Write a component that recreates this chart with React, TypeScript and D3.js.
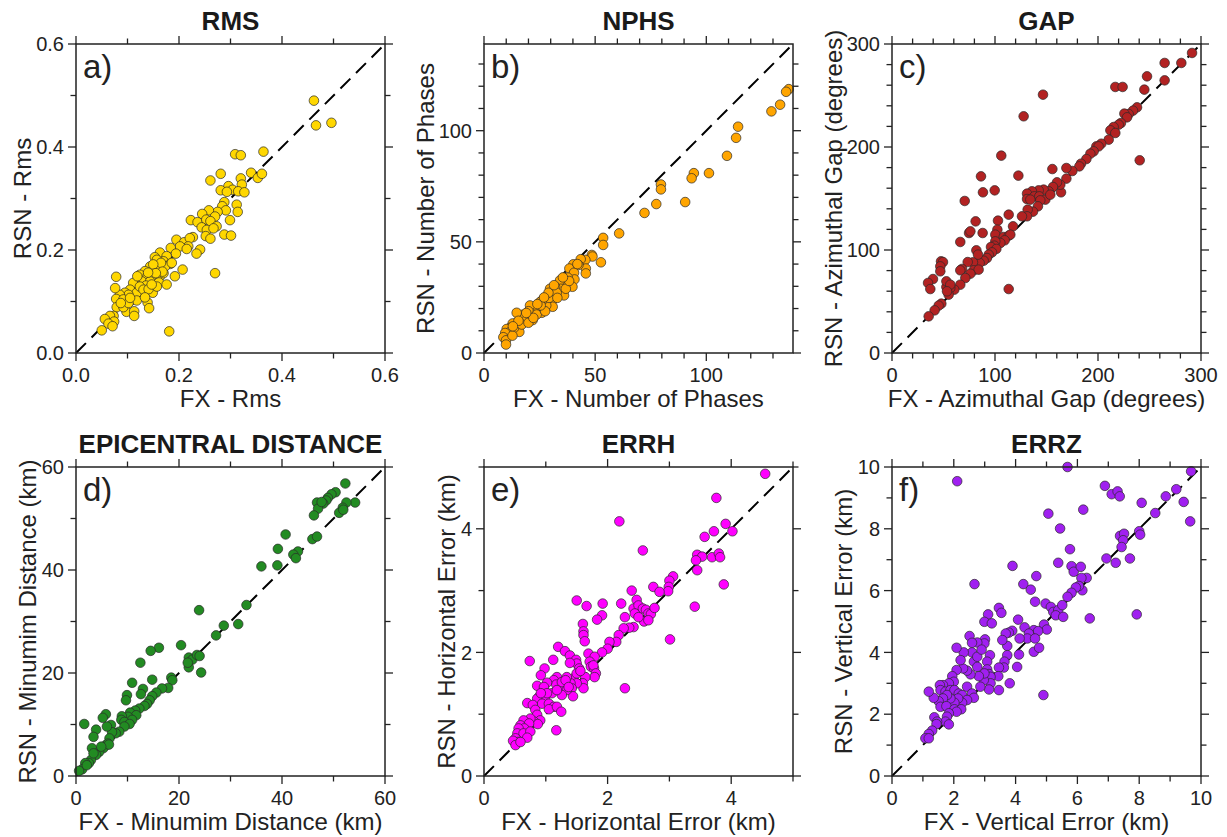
import React from 'react'
import * as d3 from 'd3'

// [FX, RSN] pairs
const rmsPoints: [number, number][] = [
  [0.462, 0.49], [0.466, 0.442], [0.496, 0.447], [0.364, 0.391], [0.309, 0.386], [0.32, 0.384],
  [0.34, 0.35], [0.353, 0.34], [0.361, 0.348], [0.281, 0.348], [0.261, 0.335], [0.32, 0.339],
  [0.322, 0.327], [0.296, 0.324], [0.304, 0.317], [0.281, 0.316], [0.315, 0.314], [0.327, 0.312],
  [0.293, 0.313], [0.288, 0.293], [0.312, 0.288], [0.284, 0.285], [0.314, 0.274], [0.291, 0.277],
  [0.275, 0.274], [0.258, 0.277], [0.245, 0.27], [0.27, 0.265], [0.299, 0.258], [0.223, 0.258],
  [0.236, 0.254], [0.253, 0.259], [0.261, 0.256], [0.273, 0.246], [0.244, 0.244], [0.254, 0.239],
  [0.267, 0.242], [0.227, 0.225], [0.252, 0.227], [0.261, 0.222], [0.288, 0.23], [0.301, 0.228],
  [0.195, 0.22], [0.21, 0.215], [0.221, 0.223], [0.218, 0.207], [0.202, 0.207], [0.184, 0.204],
  [0.241, 0.201], [0.234, 0.193], [0.194, 0.193], [0.215, 0.202], [0.27, 0.155], [0.207, 0.162],
  [0.192, 0.149], [0.181, 0.042], [0.163, 0.195], [0.153, 0.186], [0.176, 0.188], [0.17, 0.178],
  [0.183, 0.173], [0.157, 0.168], [0.144, 0.168], [0.163, 0.165], [0.134, 0.159], [0.147, 0.159],
  [0.124, 0.152], [0.139, 0.149], [0.152, 0.149], [0.163, 0.149], [0.128, 0.139], [0.144, 0.139],
  [0.161, 0.137], [0.176, 0.133], [0.118, 0.131], [0.136, 0.131], [0.111, 0.136], [0.149, 0.117],
  [0.13, 0.117], [0.105, 0.123], [0.095, 0.117], [0.118, 0.117], [0.102, 0.113], [0.085, 0.113],
  [0.078, 0.148], [0.076, 0.126], [0.078, 0.105], [0.092, 0.104], [0.107, 0.102], [0.118, 0.102],
  [0.139, 0.098], [0.142, 0.087], [0.098, 0.08], [0.113, 0.081], [0.113, 0.072], [0.079, 0.089],
  [0.092, 0.089], [0.073, 0.072], [0.066, 0.072], [0.056, 0.066], [0.074, 0.061], [0.063, 0.057],
  [0.071, 0.052], [0.05, 0.044], [0.102, 0.097], [0.087, 0.097], [0.124, 0.129], [0.131, 0.123],
  [0.141, 0.124], [0.157, 0.129], [0.17, 0.155], [0.157, 0.181], [0.173, 0.168], [0.186, 0.175],
  [0.119, 0.149], [0.105, 0.107], [0.134, 0.108], [0.147, 0.133], [0.165, 0.175], [0.15, 0.172],
  [0.168, 0.158], [0.155, 0.155], [0.14, 0.156],
]

const nphsPoints: [number, number][] = [
  [137.1, 118.7], [135.9, 117.5], [133.2, 111.7], [129.3, 108.7], [114.3, 101.8], [113.4, 96.8],
  [109.3, 88.7], [101.2, 80.9], [94.4, 80.9], [93.4, 78.6], [90.5, 67.9], [79.6, 75.8],
  [79.6, 73.6], [77.5, 67.0], [72.2, 63.0], [60.8, 53.8], [53.6, 51.8], [53.6, 48.6],
  [52.6, 40.8], [48.5, 44.1], [48.8, 43.4], [45.6, 41.9], [43.5, 42.2], [45.8, 38.0],
  [45.8, 35.8], [42.5, 39.6], [40.2, 39.9], [38.4, 38.0], [40.5, 36.1], [40.7, 33.1],
  [37.7, 33.9], [39.8, 29.8], [36.2, 31.9], [34.2, 32.7], [34.5, 28.9], [32.0, 29.8],
  [36.0, 25.9], [29.7, 28.9], [30.9, 26.4], [28.5, 25.6], [30.5, 23.3], [30.9, 20.8],
  [28.0, 21.4], [26.7, 24.1], [25.2, 22.9], [24.5, 20.3], [26.0, 18.1], [23.0, 19.6],
  [21.9, 17.3], [20.7, 21.4], [20.0, 18.8], [19.2, 16.6], [21.9, 14.8], [17.7, 17.3],
  [17.7, 15.1], [16.2, 15.8], [14.7, 13.6], [15.9, 9.5], [12.9, 13.3], [11.7, 11.3],
  [13.5, 11.3], [10.2, 10.8], [11.4, 9.3], [9.5, 9.0], [8.7, 7.1], [9.9, 5.7],
  [9.9, 3.8], [12.8, 7.8], [14.7, 18.1], [18.5, 14.3], [23.7, 17.3], [27.5, 18.8],
  [29.3, 24.8], [32.7, 27.1], [36.8, 28.9], [38.3, 32.4], [33.0, 24.8], [17.0, 12.8],
  [20.0, 13.6], [22.2, 15.8], [25.5, 21.4], [29.0, 27.1], [24.0, 22.0], [27.0, 25.0],
  [19.0, 18.0], [15.5, 14.5], [13.0, 12.0], [31.5, 30.5], [35.5, 34.0], [42.0, 40.0],
]

const gapPoints: [number, number][] = [
  [291.3, 291.3], [264.7, 281.6], [280.9, 281.6], [247.6, 268.6], [264.7, 264.7], [245.0, 255.7],
  [216.8, 258.3], [223.9, 258.3], [146.6, 250.8], [127.8, 229.8], [237.9, 238.5], [234.0, 235.3],
  [229.8, 232.0], [225.6, 232.4], [228.2, 228.8], [222.3, 223.3], [220.1, 221.7], [215.2, 219.4],
  [212.0, 216.2], [216.8, 213.6], [210.4, 207.1], [203.2, 203.2], [198.4, 200.6], [200.6, 200.6],
  [195.8, 195.8], [192.6, 193.5], [188.7, 188.3], [183.5, 183.8], [181.9, 181.2], [175.1, 176.7],
  [169.3, 179.6], [169.3, 169.3], [240.5, 187.1], [106.1, 191.6], [155.7, 178.6], [122.7, 172.2],
  [86.4, 171.5], [88.3, 156.0], [99.7, 157.9], [70.6, 147.6], [164.1, 156.0], [163.4, 163.4],
  [160.2, 165.7], [156.3, 161.2], [152.1, 157.0], [147.2, 158.6], [142.4, 157.9], [135.9, 157.0],
  [131.1, 154.7], [131.1, 149.5], [138.2, 152.1], [143.0, 152.1], [148.9, 148.9], [153.7, 153.7],
  [144.0, 148.2], [134.3, 148.9], [141.7, 142.4], [136.9, 137.2], [131.7, 139.2], [131.1, 132.7],
  [126.2, 132.7], [113.3, 134.3], [117.5, 123.0], [102.9, 128.5], [102.3, 119.7], [100.3, 114.9],
  [108.4, 112.6], [113.3, 113.9], [114.9, 114.9], [109.4, 109.4], [105.2, 106.8], [100.3, 108.4],
  [99.4, 104.2], [96.1, 102.9], [101.3, 101.0], [97.1, 97.7], [93.9, 95.5], [92.2, 92.2],
  [89.0, 89.6], [85.1, 87.4], [81.9, 99.7], [83.5, 95.5], [81.2, 127.8], [88.0, 116.5],
  [74.8, 116.5], [66.3, 107.8], [78.6, 88.0], [73.5, 88.3], [68.0, 81.6], [66.3, 80.3],
  [79.3, 80.3], [84.1, 80.9], [76.1, 77.0], [71.2, 72.8], [66.3, 66.3], [60.5, 61.5],
  [56.6, 63.1], [55.0, 56.6], [52.8, 64.1], [52.8, 69.6], [56.6, 66.3], [47.6, 89.0],
  [49.5, 88.3], [46.9, 84.1], [46.9, 79.3], [39.8, 71.8], [35.0, 68.0], [37.2, 62.1],
  [47.9, 47.9], [45.3, 46.0], [41.4, 41.4], [35.6, 35.6], [113.3, 62.1], [53.4, 59.9],
  [76.1, 118.1],
]

const distPoints: [number, number][] = [
  [52.3, 56.8], [54.2, 53.1], [52.5, 53.1], [51.8, 52.1], [51.1, 51.1], [51.9, 51.7],
  [50.4, 55.1], [49.6, 54.7], [48.9, 54.0], [48.6, 53.5], [48.0, 52.9], [46.8, 53.1],
  [47.0, 51.9], [46.2, 50.6], [47.7, 53.2], [45.9, 46.0], [46.8, 46.5], [40.7, 46.9],
  [39.2, 44.1], [39.1, 40.9], [36.0, 40.7], [43.1, 43.6], [42.2, 43.0], [42.7, 42.3],
  [33.1, 33.2], [31.5, 29.5], [28.7, 29.2], [27.2, 27.3], [23.9, 32.2], [20.4, 25.4],
  [16.1, 24.9], [14.5, 24.3], [12.5, 22.0], [21.9, 23.0], [22.6, 22.6], [21.9, 21.1],
  [21.7, 22.0], [23.5, 23.5], [24.0, 23.3], [24.3, 20.1], [18.5, 19.1], [18.7, 18.6],
  [17.9, 17.1], [16.7, 17.0], [15.6, 16.2], [14.8, 15.5], [14.8, 18.7], [13.0, 16.9],
  [12.6, 15.9], [10.9, 18.1], [9.9, 15.7], [9.7, 14.7], [14.3, 14.7], [13.8, 14.0],
  [13.3, 13.6], [12.3, 13.1], [11.5, 12.7], [10.5, 12.3], [11.7, 11.8], [10.1, 11.5],
  [10.9, 10.9], [8.9, 11.6], [8.8, 10.9], [9.4, 10.5], [10.4, 10.1], [9.4, 9.6],
  [8.4, 8.6], [6.8, 9.9], [7.7, 8.3], [7.0, 8.5], [6.5, 7.3], [5.8, 12.0],
  [5.2, 11.3], [6.0, 9.6], [3.9, 9.0], [1.6, 10.1], [3.4, 7.6], [3.1, 5.4],
  [5.8, 6.0], [6.2, 6.3], [5.3, 5.4], [6.4, 6.1], [4.5, 4.7], [3.9, 4.1],
  [2.9, 3.1], [2.5, 2.5], [1.8, 2.5], [1.2, 1.3], [0.6, 1.0], [2.1, 2.1],
  [3.4, 4.4], [4.9, 5.7],
]

const errhPoints: [number, number][] = [
  [4.55, 4.89], [3.76, 4.5], [2.19, 4.12], [3.91, 4.08], [4.02, 3.96], [3.72, 3.96],
  [3.57, 3.87], [2.57, 3.65], [3.45, 3.58], [3.53, 3.55], [3.69, 3.54], [3.8, 3.6],
  [3.82, 3.54], [3.43, 3.49], [3.45, 3.33], [3.88, 3.1], [3.41, 2.74], [3.06, 3.23],
  [3.0, 3.16], [2.99, 3.06], [2.98, 2.99], [2.74, 3.06], [2.84, 2.98], [3.01, 2.21],
  [2.39, 3.0], [2.47, 2.85], [1.5, 2.84], [1.66, 2.75], [1.92, 2.79], [2.22, 2.79],
  [1.91, 2.6], [1.83, 2.53], [2.28, 2.57], [2.42, 2.71], [2.5, 2.76], [2.57, 2.71],
  [2.62, 2.69], [2.66, 2.63], [2.7, 2.62], [2.76, 2.72], [2.59, 2.5], [2.66, 2.52],
  [2.44, 2.63], [2.5, 2.57], [2.42, 2.41], [2.35, 2.4], [2.26, 2.39], [2.18, 2.28],
  [2.14, 2.17], [2.03, 2.17], [2.0, 2.06], [1.91, 2.0], [1.6, 2.46], [1.61, 2.34],
  [1.61, 2.28], [1.63, 2.18], [2.28, 1.42], [1.2, 2.09], [1.31, 2.02], [1.39, 1.95],
  [1.49, 1.88], [1.5, 1.82], [1.39, 1.83], [1.54, 1.74], [1.69, 1.98], [1.79, 1.93],
  [1.71, 1.85], [1.73, 1.77], [1.78, 1.74], [1.77, 1.79], [1.81, 1.66], [1.79, 1.6],
  [1.64, 1.6], [1.6, 1.5], [1.61, 1.42], [1.45, 1.58], [1.5, 1.5], [1.4, 1.5],
  [1.34, 1.6], [1.26, 1.44], [1.42, 1.42], [1.44, 1.29], [1.34, 1.39], [1.26, 1.31],
  [1.18, 1.6], [1.13, 1.55], [1.17, 1.48], [1.1, 1.34], [1.02, 1.51], [1.12, 1.88],
  [0.98, 1.74], [0.92, 1.63], [0.74, 1.86], [0.86, 1.46], [0.97, 1.44], [0.89, 1.28],
  [0.99, 1.23], [0.86, 1.25], [0.94, 1.17], [1.05, 1.17], [1.13, 1.12], [1.05, 1.08],
  [1.18, 1.12], [1.25, 1.04], [1.17, 0.74], [0.7, 1.18], [0.79, 1.15], [0.83, 1.07],
  [0.86, 0.99], [0.91, 0.9], [0.81, 0.88], [0.87, 0.84], [0.75, 0.93], [0.64, 0.9],
  [0.73, 0.85], [0.59, 0.82], [0.65, 0.77], [0.56, 0.77], [0.54, 0.69], [0.64, 0.69],
  [0.75, 0.72], [0.7, 0.62], [0.51, 0.61], [0.55, 0.55], [0.47, 0.57], [0.51, 0.5],
  [0.59, 0.55], [1.26, 1.52], [1.32, 1.55], [1.37, 1.44], [1.5, 1.66], [1.56, 1.7],
  [1.18, 1.39], [1.02, 1.34], [0.92, 1.34],
]

const errzPoints: [number, number][] = [
  [5.68, 10.0], [2.11, 9.54], [9.68, 9.86], [6.89, 9.39], [7.11, 9.12], [7.3, 9.21],
  [7.37, 9.05], [9.2, 9.28], [8.86, 9.05], [9.44, 8.87], [8.08, 8.84], [8.52, 8.51],
  [9.65, 8.24], [5.06, 8.49], [6.19, 8.62], [5.44, 8.01], [7.38, 7.77], [7.51, 7.84],
  [7.48, 7.63], [7.43, 7.41], [8.0, 7.92], [8.03, 7.81], [5.76, 7.34], [6.94, 7.04],
  [7.7, 7.04], [7.24, 6.9], [5.38, 6.9], [5.81, 6.79], [5.88, 6.61], [6.11, 6.77],
  [3.9, 6.8], [4.67, 6.47], [2.67, 6.21], [4.25, 6.21], [4.49, 6.03], [6.3, 6.41],
  [6.13, 6.41], [6.16, 6.01], [6.05, 6.15], [5.95, 6.1], [5.81, 5.93], [5.68, 5.8],
  [4.63, 5.64], [4.97, 5.58], [5.14, 5.47], [5.22, 5.31], [5.38, 5.37], [5.3, 5.2],
  [5.51, 5.53], [5.54, 5.15], [6.4, 5.1], [7.92, 5.23], [4.92, 4.9], [5.01, 4.74],
  [4.9, 2.62], [3.46, 5.44], [3.54, 5.28], [3.11, 5.23], [2.99, 4.99], [3.23, 4.94],
  [4.08, 5.06], [4.29, 4.81], [4.59, 4.72], [4.73, 4.69], [4.43, 4.61], [4.38, 4.45],
  [4.63, 4.45], [4.59, 4.02], [4.76, 4.15], [4.13, 4.45], [3.89, 4.7], [3.78, 4.64],
  [3.68, 4.61], [3.73, 4.21], [3.57, 4.4], [4.11, 3.93], [4.05, 3.53], [3.73, 3.91],
  [3.64, 3.7], [3.62, 3.51], [3.46, 3.51], [3.44, 3.23], [3.46, 2.78], [3.81, 3.0],
  [3.17, 3.91], [3.08, 3.7], [3.08, 3.45], [3.14, 3.3], [3.19, 3.21], [3.19, 3.0],
  [3.14, 2.8], [2.97, 3.1], [2.99, 3.32], [3.01, 4.42], [2.99, 4.29], [2.76, 4.32],
  [2.51, 4.53], [2.59, 4.31], [2.59, 4.0], [2.32, 4.0], [2.09, 4.15], [2.65, 3.7],
  [2.76, 3.53], [2.81, 3.23], [2.86, 2.89], [2.54, 3.29], [2.43, 3.41], [2.3, 3.48],
  [2.09, 3.43], [1.95, 3.23], [2.0, 3.05], [1.84, 3.0], [1.65, 2.94], [1.55, 2.94],
  [1.57, 2.78], [1.73, 2.73], [1.89, 2.78], [2.02, 2.78], [2.16, 2.67], [2.27, 2.62],
  [2.43, 2.89], [2.59, 2.67], [2.65, 2.53], [2.43, 2.46], [2.27, 2.37], [2.14, 2.51],
  [2.02, 2.37], [1.89, 2.51], [1.78, 2.62], [1.65, 2.51], [1.51, 2.42], [1.35, 2.53],
  [1.19, 2.73], [1.57, 2.24], [1.76, 2.26], [2.02, 2.16], [2.24, 2.16], [2.09, 2.08],
  [1.84, 2.03], [1.78, 1.92], [1.73, 1.76], [1.84, 1.67], [1.37, 1.9], [1.46, 1.76],
  [1.44, 1.68], [1.3, 1.47], [1.19, 1.36], [1.08, 1.22], [1.19, 1.22], [2.22, 3.75],
  [2.76, 3.86], [2.9, 4.09],
]

// ticks and labels
const rmsTicks = [0, 0.1, 0.2, 0.3, 0.4, 0.5, 0.6]
const rmsLabels = [0, 0.2, 0.4, 0.6]
const nphsTicks = [0, 10, 20, 30, 40, 50, 60, 70, 80, 90, 100, 110, 120, 130]
const nphsLabels = [0, 50, 100]
const gapTicks = [0, 20, 40, 60, 80, 100, 120, 140, 160, 180, 200, 220, 240, 260, 280, 300]
const gapLabels = [0, 100, 200, 300]
const distTicks = [0, 10, 20, 30, 40, 50, 60]
const distLabels = [0, 20, 40, 60]
const errhTicks = [0, 1, 2, 3, 4, 5]
const errhLabels = [0, 2, 4]
const errzTicks = [0, 1, 2, 3, 4, 5, 6, 7, 8, 9, 10]
const errzLabels = [0, 2, 4, 6, 8, 10]

const FONT = '"Liberation Sans", Arial, Helvetica, sans-serif'
const SIZE = 309
const COLS = [76, 484, 892]
const ROWS = [44, 467]

const panels = [
  { title: 'RMS', letter: 'a)', xLabel: 'FX - Rms', yLabel: 'RSN - Rms', max: 0.6, ticks: rmsTicks, labels: rmsLabels, fmt: d3.format('.1f'), color: '#FFD700', points: rmsPoints, col: 0, row: 0 },
  { title: 'NPHS', letter: 'b)', xLabel: 'FX - Number of Phases', yLabel: 'RSN - Number of Phases', max: 139, ticks: nphsTicks, labels: nphsLabels, fmt: d3.format('d'), color: '#FFA500', points: nphsPoints, col: 1, row: 0 },
  { title: 'GAP', letter: 'c)', xLabel: 'FX - Azimuthal Gap (degrees)', yLabel: 'RSN - Azimuthal Gap (degrees)', max: 300, ticks: gapTicks, labels: gapLabels, fmt: d3.format('d'), color: '#B22222', points: gapPoints, col: 2, row: 0 },
  { title: 'EPICENTRAL DISTANCE', letter: 'd)', xLabel: 'FX - Minumim Distance (km)', yLabel: 'RSN - Minumim Distance (km)', max: 60, ticks: distTicks, labels: distLabels, fmt: d3.format('d'), color: '#228B22', points: distPoints, col: 0, row: 1 },
  { title: 'ERRH', letter: 'e)', xLabel: 'FX - Horizontal Error (km)', yLabel: 'RSN - Horizontal Error (km)', max: 5, ticks: errhTicks, labels: errhLabels, fmt: d3.format('d'), color: '#FF00FF', points: errhPoints, col: 1, row: 1 },
  { title: 'ERRZ', letter: 'f)', xLabel: 'FX - Vertical Error (km)', yLabel: 'RSN - Vertical Error (km)', max: 10, ticks: errzTicks, labels: errzLabels, fmt: d3.format('d'), color: '#A020F0', points: errzPoints, col: 2, row: 1 },
]

function Panel({ p }: { p: any }) {
  const left = COLS[p.col]
  const top = ROWS[p.row]
  const x = d3.scaleLinear().domain([0, p.max]).range([left, left + SIZE])
  const y = d3.scaleLinear().domain([0, p.max]).range([top + SIZE, top])
  const isMajor = (t: number) => p.labels.some((l: number) => Math.abs(l - t) < 1e-9)
  const tickLen = (t: number) => (isMajor(t) ? 8 : 5.5)
  // rough width of the widest y tick label, to place the y title
  const labelW = d3.max(p.labels.map((l: number) => p.fmt(l).replace('.', '').length * 10.5 + (p.fmt(l).includes('.') ? 5.5 : 0))) as number
  const yTitleX = left - 12 - labelW - 7
  const line = d3.line()([[x(0), y(0)], [x(p.max), y(p.max)]]) as string

  return (
    <g>
      <text x={left + SIZE / 2} y={top - 14} textAnchor="middle" fontFamily={FONT} fontWeight="bold" fontSize={26} fill="#1a1a1a">{p.title}</text>
      <path d={line} stroke="#000" strokeWidth={2} strokeDasharray="14 8" fill="none" />
      {p.points.map((d: [number, number], i: number) => (
        <circle key={i} cx={x(d[0])} cy={y(d[1])} r={4.8} fill={p.color} stroke="#2a2a2a" strokeWidth={0.7} />
      ))}
      <rect x={left} y={top} width={SIZE} height={SIZE} fill="none" stroke="#222" strokeWidth={1.5} />
      {p.ticks.map((t: number) => (
        <g key={'t' + t} stroke="#222" strokeWidth={1.3}>
          <line x1={x(t)} x2={x(t)} y1={top + SIZE} y2={top + SIZE + tickLen(t)} />
          <line x1={x(t)} x2={x(t)} y1={top} y2={top - tickLen(t)} />
          <line x1={left} x2={left - tickLen(t)} y1={y(t)} y2={y(t)} />
          <line x1={left + SIZE} x2={left + SIZE + tickLen(t)} y1={y(t)} y2={y(t)} />
        </g>
      ))}
      {p.labels.map((l: number) => (
        <g key={'l' + l} fontFamily={FONT} fontSize={20} fill="#222">
          <text x={x(l)} y={top + SIZE + 29} textAnchor="middle">{p.fmt(l)}</text>
          <text x={left - 12} y={y(l)} dy="0.36em" textAnchor="end">{p.fmt(l)}</text>
        </g>
      ))}
      <text x={left + 7} y={top + 34} fontFamily={FONT} fontSize={33} fill="#222">{p.letter}</text>
      <text x={left + SIZE / 2} y={top + SIZE + 54} textAnchor="middle" fontFamily={FONT} fontSize={24} fill="#222">{p.xLabel}</text>
      <text transform={`translate(${yTitleX},${top + SIZE / 2}) rotate(-90)`} textAnchor="middle" fontFamily={FONT} fontSize={24} fill="#222">{p.yLabel}</text>
    </g>
  )
}

export default function App() {
  return (
    <svg width={1227} height={837} style={{ position: 'absolute', left: 0, top: 0, background: '#fff' }}>
      <rect width={1227} height={837} fill="#fff" />
      {panels.map((p, i) => <Panel key={i} p={p} />)}
    </svg>
  )
}
